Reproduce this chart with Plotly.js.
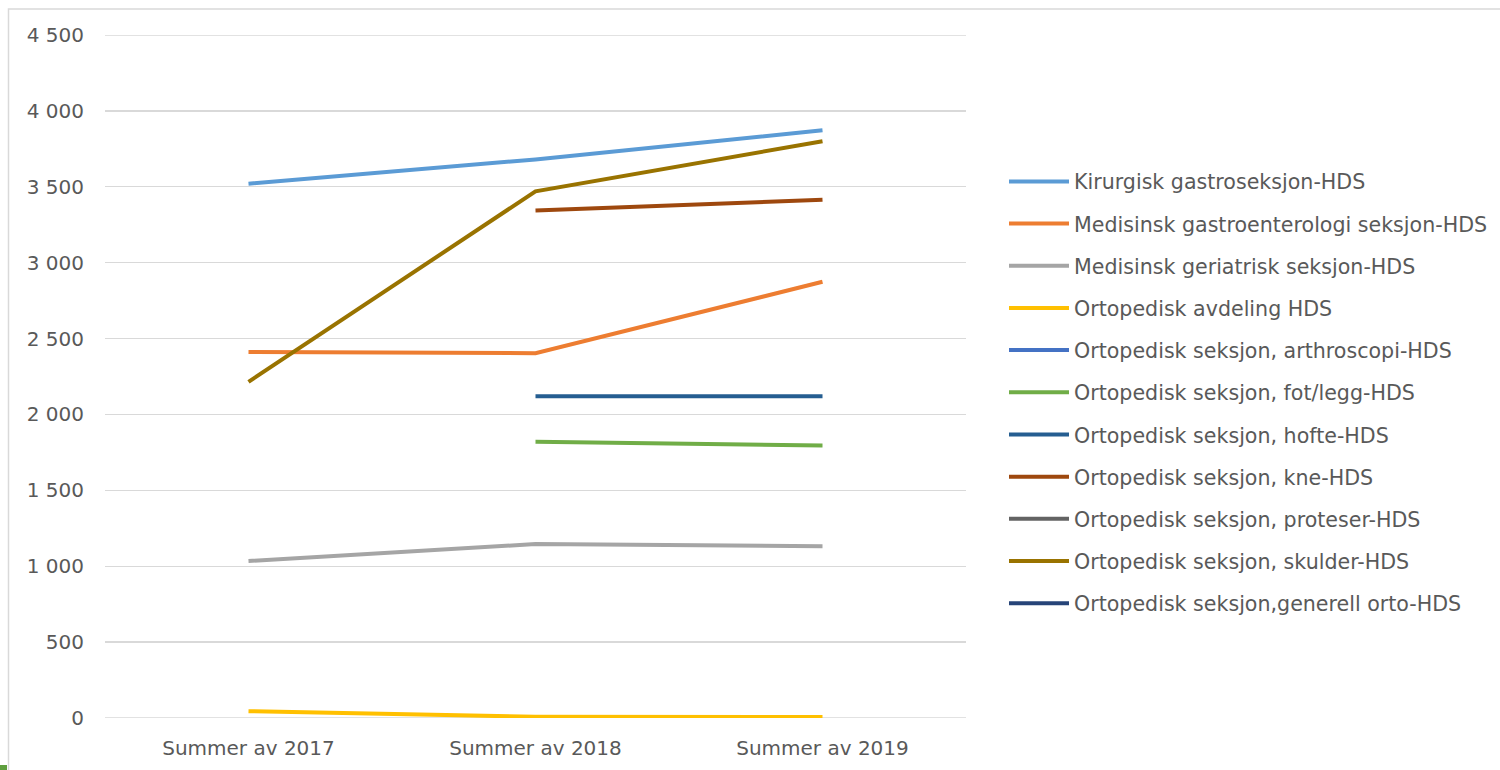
<!DOCTYPE html>
<html>
<head>
<meta charset="utf-8">
<script src="https://cdn.plot.ly/plotly-3.0.1.min.js"></script>
<style>html,body{margin:0;padding:0;background:#fff;}#chart{width:1500px;height:770px;}</style>
</head>
<body>
<div id="chart"></div>
<script>
var categories = ["Summer av 2017", "Summer av 2018", "Summer av 2019"];

var seriesNames = [
  "Kirurgisk gastroseksjon-HDS",
  "Medisinsk gastroenterologi seksjon-HDS",
  "Medisinsk geriatrisk seksjon-HDS",
  "Ortopedisk avdeling HDS",
  "Ortopedisk seksjon, arthroscopi-HDS",
  "Ortopedisk seksjon, fot/legg-HDS",
  "Ortopedisk seksjon, hofte-HDS",
  "Ortopedisk seksjon, kne-HDS",
  "Ortopedisk seksjon, proteser-HDS",
  "Ortopedisk seksjon, skulder-HDS",
  "Ortopedisk seksjon,generell orto-HDS"
];

var kirurgiskGastro   = [3520, 3680, 3872];
var medGastroent      = [2412, 2404, 2874];
var medGeriatrisk     = [1034, 1146, 1132];
var ortoAvdeling      = [45, 8, 6];
var ortoArthroscopi   = [null, null, null];
var ortoFotLegg       = [null, 1820, 1795];
var ortoHofte         = [null, 2120, 2120];
var ortoKne           = [null, 3343, 3415];
var ortoProteser      = [null, null, null];
var ortoSkulder       = [2215, 3470, 3800];
var ortoGenerell      = [null, null, null];

var yRange = [0, 4500];

var seriesValues = [kirurgiskGastro, medGastroent, medGeriatrisk, ortoAvdeling, ortoArthroscopi,
                    ortoFotLegg, ortoHofte, ortoKne, ortoProteser, ortoSkulder, ortoGenerell];

var colors = ["#5B9BD5", "#ED7D31", "#A5A5A5", "#FFC000", "#4472C4", "#70AD47",
              "#255E91", "#9E480E", "#636363", "#997300", "#264478"];

var FONT = "DejaVu Sans";
var TXT = "#595959";
var GRID = "#D9D9D9";

var traces = seriesNames.map(function (name, i) {
  return {
    type: "scatter",
    mode: "lines",
    name: name,
    legendgroup: "g" + i,
    x: categories,
    y: seriesValues[i],
    connectgaps: false,
    line: { color: colors[i], width: 4 }
  };
});

var W = 1500, H = 770;
var L = 105, R = 966, T = 35, B = 718;
function px(x) { return (x - L) / (R - L); }
function py(y) { return (B - y) / (B - T); }

// edge gridlines (Plotly omits gridlines lying on the plot-area edges)
var edgeGrid = yRange.map(function (v) {
  return {
    type: "line", xref: "paper", yref: "y",
    x0: 0, x1: 1, y0: v, y1: v,
    line: { color: GRID, width: 1.3 }, layer: "below"
  };
});

var layout = {
  width: W,
  height: H,
  margin: { l: L, r: W - R, t: T, b: H - B, pad: 0, autoexpand: false },
  paper_bgcolor: "#ffffff",
  plot_bgcolor: "#ffffff",
  separators: ", ",
  font: { family: FONT, size: 20, color: TXT },
  showlegend: true,
  legend: {
    x: px(1004), xanchor: "left",
    y: py(392.5), yanchor: "middle",
    font: { family: FONT, size: 20.6, color: TXT },
    tracegroupgap: 12.4,
    traceorder: "grouped",
    itemwidth: 60,
    bgcolor: "rgba(0,0,0,0)"
  },
  xaxis: {
    type: "category",
    range: [-0.5, 2.5],
    showgrid: false,
    zeroline: false,
    showline: false,
    ticks: "",
    ticklabelstandoff: 16,
    tickfont: { family: FONT, size: 20, color: TXT },
    fixedrange: true
  },
  yaxis: {
    range: yRange,
    dtick: 500,
    tick0: 0,
    tickformat: ",d",
    showgrid: true,
    gridcolor: GRID,
    gridwidth: 1.3,
    zeroline: false,
    showline: false,
    ticks: "",
    ticklabelstandoff: 20,
    tickfont: { family: FONT, size: 20, color: TXT },
    fixedrange: true
  },
  shapes: [
    {
      type: "rect", xref: "paper", yref: "paper",
      x0: px(8.5), x1: px(1510), y0: py(775), y1: py(9),
      line: { color: GRID, width: 1.5 },
      fillcolor: "rgba(0,0,0,0)", layer: "below"
    },
    {
      type: "rect", xref: "paper", yref: "paper",
      x0: px(0), x1: px(7), y0: py(770), y1: py(765),
      line: { width: 0 }, fillcolor: "#5E9E3E", layer: "above"
    }
  ].concat(edgeGrid)
};

Plotly.newPlot("chart", traces, layout, { displayModeBar: false, staticPlot: true });
</script>
</body>
</html>
